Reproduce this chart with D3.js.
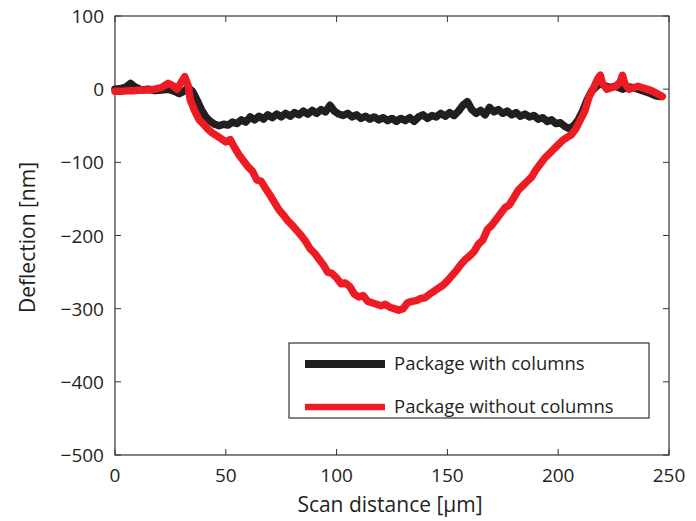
<!DOCTYPE html>
<html><head><meta charset="utf-8">
<script src="https://cdn.jsdelivr.net/npm/d3@7"></script>
<style>body{margin:0;background:#fff}svg{display:block}</style>
</head><body>
<svg id="chart" width="696" height="521"></svg>
<script>
const xTicks = [0, 50, 100, 150, 200, 250];
const yTicks = [100, 0, -100, -200, -300, -400, -500];
const seriesNames = ["Package with columns", "Package without columns"];
const seriesColors = ["#231f20", "#ed1c24"];

const withX = [0,3,5,7,9,12,15,18,21,24,27,29,31,33,35,37,39,41,43,45,47,49,51,53,55,57,59,61,63,65,67,69,71,73,75,77,79,81,83,85,87,89,91,93,95,97,99,101,103,105,107,109,111,113,115,117,119,121,123,125,127,129,131,133,135,137,139,141,143,145,147,149,151,153,155,157,159,161,163,165,167,169,171,173,175,177,179,181,183,185,187,189,191,193,195,197,199,201,203,205,207,209,211,213,215,217,219,221,223,226,229,232,235,238,241,244,246];
const withY = [0,1,3,8,3,-1,0,-2,-1,0,-3,-6,-3,2,-3,-15,-28,-38,-44,-48,-50,-48,-49,-45,-47,-42,-45,-38,-42,-37,-41,-35,-39,-34,-38,-33,-37,-32,-35,-30,-34,-29,-33,-28,-31,-22,-30,-34,-36,-33,-38,-35,-40,-37,-41,-38,-42,-39,-43,-40,-44,-40,-43,-39,-44,-38,-35,-40,-36,-38,-33,-37,-32,-36,-30,-22,-17,-28,-33,-29,-35,-25,-31,-28,-33,-30,-35,-32,-37,-34,-38,-36,-41,-39,-44,-42,-47,-46,-51,-54,-50,-42,-30,-15,-3,3,8,5,2,4,0,3,1,-2,-5,-9,-10];

const withoutX = [0,3,6,9,12,15,18,21,24,26,28,30,31.5,33,34,36,38,40,42,44,46,48,50,52,54,56,58,60,62,64,66,68,70,72,74,76,78,80,82,84,86,88,90,92,94,96,98,100,102,104,106,108,110,112,114,116,118,120,122,124,126,128,130,132,134,136,138,140,142,144,146,148,150,152,154,156,158,160,162,164,166,168,170,172,174,176,178,180,182,184,186,188,190,192,194,196,198,200,202,204,206,208,210,212,214,216,218,219,220,222,224,226,228,229,230,232,234,236,238,240,242,244,247];
const withoutY = [-3,-3,-2,-2,-1,-1,0,2,8,5,0,10,17,5,-15,-30,-42,-48,-55,-60,-64,-68,-72,-69,-80,-90,-98,-106,-112,-124,-126,-136,-145,-155,-165,-172,-180,-186,-193,-200,-208,-218,-224,-232,-240,-250,-252,-258,-266,-265,-270,-280,-284,-282,-290,-292,-294,-296,-294,-298,-300,-302,-300,-292,-290,-289,-286,-285,-280,-276,-272,-268,-262,-255,-248,-240,-233,-228,-222,-212,-206,-192,-186,-178,-170,-162,-158,-148,-138,-132,-126,-120,-110,-102,-94,-88,-82,-76,-70,-66,-62,-54,-42,-30,-10,2,15,19,8,0,2,4,10,19,8,0,2,4,2,0,-2,-5,-10];

const svg = d3.select("#chart");
const m = {left:115, right:27, top:16, bottom:66};
const W = 696, H = 521;
const x = d3.scaleLinear().domain([0,250]).range([m.left, W-m.right]);
const y = d3.scaleLinear().domain([-500,100]).range([H-m.bottom, m.top]);
const font = "'Open Sans', 'DejaVu Sans', sans-serif";
const axisCol = "#333";
const txtCol = "#231f20";

// frame
svg.append("rect").attr("x", x(0)).attr("y", y(100)).attr("width", x(250)-x(0)).attr("height", y(-500)-y(100))
  .attr("fill","none").attr("stroke", axisCol).attr("stroke-width",1.2);

// ticks inward on all sides
const tl = 6;
const g = svg.append("g");
xTicks.forEach(t => {
  g.append("line").attr("x1",x(t)).attr("x2",x(t)).attr("y1",y(-500)).attr("y2",y(-500)-tl).attr("stroke",axisCol);
  g.append("line").attr("x1",x(t)).attr("x2",x(t)).attr("y1",y(100)).attr("y2",y(100)+tl).attr("stroke",axisCol);
  svg.append("text").attr("x",x(t)).attr("y",y(-500)+27).attr("text-anchor","middle")
    .attr("font-family",font).attr("font-size",19).attr("fill",txtCol).text(t);
});
yTicks.forEach(t => {
  g.append("line").attr("x1",x(0)).attr("x2",x(0)+tl).attr("y1",y(t)).attr("y2",y(t)).attr("stroke",axisCol);
  g.append("line").attr("x1",x(250)).attr("x2",x(250)-tl).attr("y1",y(t)).attr("y2",y(t)).attr("stroke",axisCol);
  svg.append("text").attr("x",x(0)-11).attr("y",y(t)+7).attr("text-anchor","end")
    .attr("font-family",font).attr("font-size",19).attr("fill",txtCol).text(t < 0 ? "\u2212" + Math.abs(t) : t);
});

// axis titles
svg.append("text").attr("x",(x(0)+x(250))/2 - 2).attr("y",512).attr("text-anchor","middle")
  .attr("font-family",font).attr("font-size",21).attr("fill",txtCol).text("Scan distance [\u03bcm]");
svg.append("text").attr("transform",`translate(35,${(y(100)+y(-500))/2 + 2}) rotate(-90)`).attr("text-anchor","middle")
  .attr("font-family",font).attr("font-size",21).attr("fill",txtCol).text("Deflection [nm]");

// lines
const line = d3.line().x(d=>x(d[0])).y(d=>y(d[1]));
const withData = withX.map((v,i)=>[v, withY[i]]);
const withoutData = withoutX.map((v,i)=>[v, withoutY[i]]);
svg.append("path").datum(withData).attr("d",line).attr("fill","none").attr("stroke",seriesColors[0])
  .attr("stroke-width",7.5).attr("stroke-linejoin","round").attr("stroke-linecap","round");
svg.append("path").datum(withoutData).attr("d",line).attr("fill","none").attr("stroke",seriesColors[1])
  .attr("stroke-width",7.5).attr("stroke-linejoin","round").attr("stroke-linecap","round");

// legend
const lg = svg.append("g");
lg.append("rect").attr("x",289).attr("y",343).attr("width",360).attr("height",75)
  .attr("fill","#fff").attr("stroke",axisCol).attr("stroke-width",1.2);
seriesNames.forEach((n,i)=>{
  const yy = 364 + i*43;
  lg.append("line").attr("x1",305).attr("x2",385).attr("y1",yy).attr("y2",yy)
    .attr("stroke",seriesColors[i]).attr("stroke-width",i===0 ? 8 : 6.5);
  lg.append("text").attr("x",394).attr("y",yy+6).attr("font-family",font).attr("font-size",18.5)
    .attr("fill",txtCol).text(n);
});
</script>
</body></html>
